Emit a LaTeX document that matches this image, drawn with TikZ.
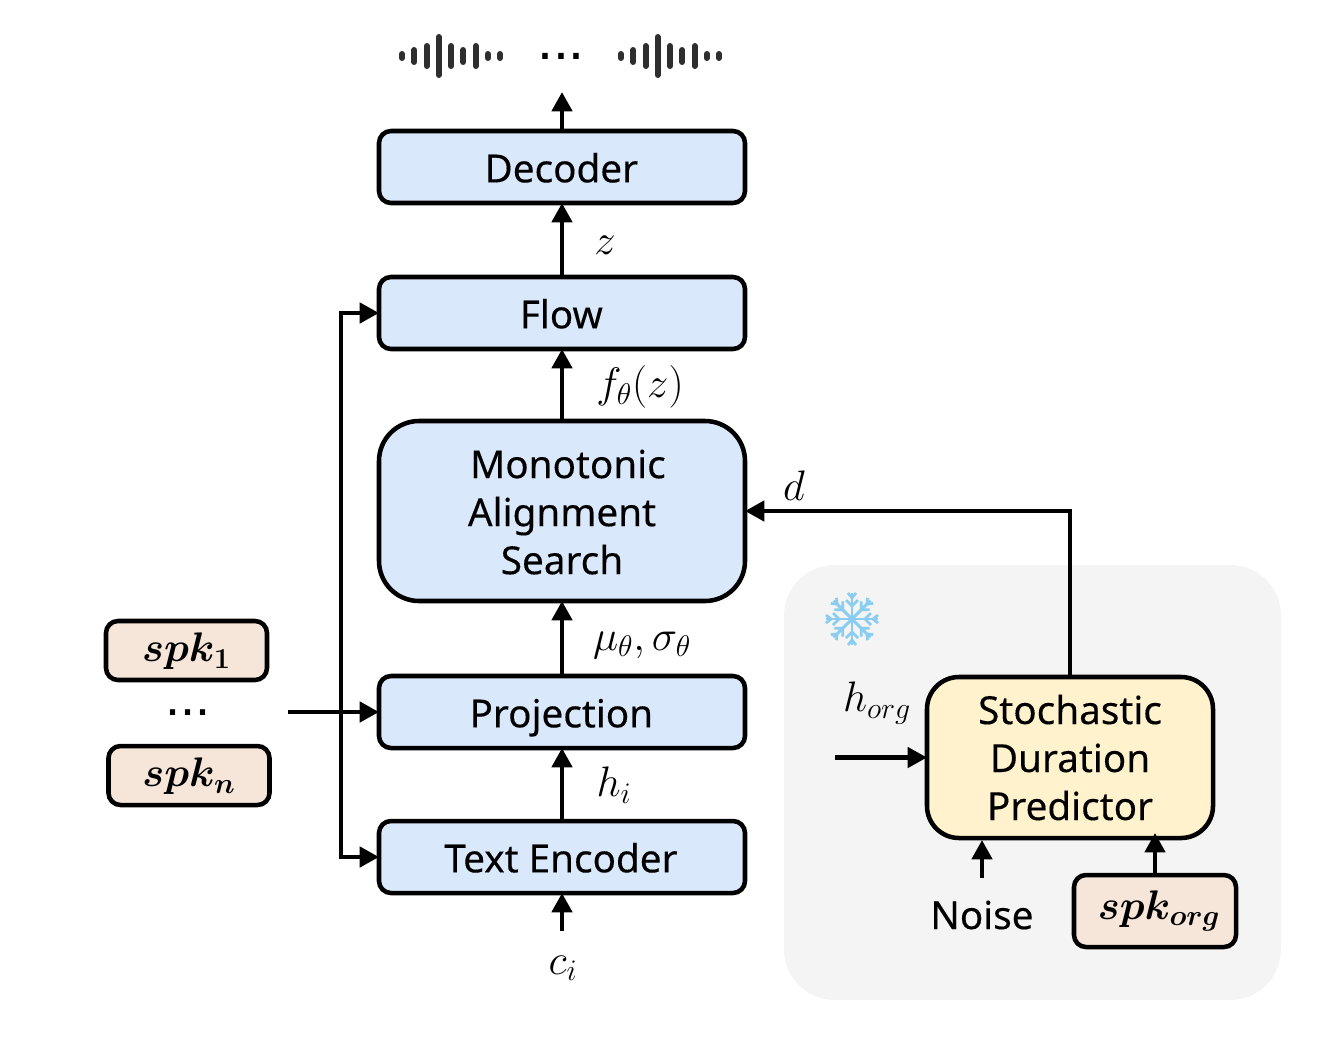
\documentclass[tikz,border=0pt]{standalone}
\usepackage{fix-cm}
\usepackage{fontspec}
\setmainfont[FakeBold=0.25]{Noto Sans}
\newfontfamily\dotfont{Liberation Sans}
\usetikzlibrary{arrows.meta}
\definecolor{blueF}{HTML}{DAE8FB}
\definecolor{peachF}{HTML}{F6E5D9}
\definecolor{yellowF}{HTML}{FFF2CC}
\definecolor{grayF}{HTML}{F4F4F4}
\definecolor{iceC}{HTML}{8ACDF0}
\definecolor{waveC}{HTML}{2E2E2E}
\newcommand{\mathsz}{\fontsize{32}{36}\selectfont}
\newcommand{\spksz}{\fontsize{31}{36}\selectfont\boldmath}
\tikzset{
  x=0.75pt,y=-0.75pt,
  box/.style={draw=black,line width=3.4pt,inner sep=0pt,outer sep=0pt,align=center,
     font=\fontsize{29}{36}\selectfont},
  bluebox/.style={box,fill=blueF,rounded corners=9pt,minimum width=366*0.75pt,minimum height=72*0.75pt,
     text height=24.5pt,text depth=1.5pt},
  spkbox/.style={box,fill=peachF,rounded corners=9pt,minimum width=161*0.75pt,minimum height=59*0.75pt,font=\spksz},
  conn/.style={line width=3.4pt,-{Triangle[length=14.5pt,width=15pt]}},
  lab/.style={inner sep=0pt,font=\mathsz},
  txt/.style={inner sep=0pt,font=\fontsize{29}{36}\selectfont},
  wavebar/.style={line width=4.5pt,line cap=round,color=waveC},
  dotsl/.style={inner sep=0pt,anchor=base},
}
\begin{document}
\begin{tikzpicture}
\useasboundingbox (0,0) rectangle (1327,1058);
% frozen region
\node[fill=grayF,rounded corners=38pt,minimum width=497*0.75pt,minimum height=435*0.75pt,inner sep=0pt] (frozen) at (1032.5,782.5) {};
% snowflake
\begin{scope}[shift={(852,619)}]
\foreach \a in {0,45,...,315}{
  \draw[iceC,line width=2.2pt,rotate=\a] (0,0) -- (26,0);
  \draw[iceC,line width=2pt,rotate=\a] (19,-6) -- (13,0) -- (19,6);
  \draw[iceC,line width=2pt,rotate=\a] (26,-4) -- (21,0) -- (26,4);
}
\end{scope}
% waveforms
\foreach \o in {0,219}{
  \foreach \xx/\h in {402/2,414.3/6,426.7/10,438.7/19,451/10,463.3/6,475.7/10,487.7/2,500/2}{
    \draw[wavebar] (\xx+\o,56-\h) -- (\xx+\o,56+\h);
  }
}
\node[dotsl,font=\dotfont\fontsize{43}{43}\selectfont] (topdots) at (561,59) {...};
\node[dotsl,font=\dotfont\fontsize{40.5}{43}\selectfont] (leftdots) at (188,715) {...};
% main boxes
\node[bluebox] (dec) at (562,167) {\hspace*{-1pt}Decoder};
\node[bluebox] (flow) at (562,313) {\hspace*{-1pt}Flow};
\node[bluebox,rounded corners=30pt,minimum height=180*0.75pt,text height=,text depth=] (mas) at (562,511) {\rule{0pt}{23pt}\hspace*{9pt}Monotonic\\Alignment\\Search};
\node[bluebox] (proj) at (562,712) {\hspace*{-1pt}Projection};
\node[bluebox] (te) at (562,857) {\hspace*{-1.5pt}Text Encoder};
\node[spkbox] (spka) at (186.5,650.5) {\rule{0pt}{23pt}$spk_{1}$};
\node[spkbox] (spkb) at (189,775.5) {\rule{0pt}{23pt}$spk_{n}$};
\node[box,fill=yellowF,rounded corners=24pt,minimum width=286*0.75pt,minimum height=161*0.75pt] (sdp) at (1070,757.5) {Stochastic\\Duration\\Predictor};
\node[spkbox,minimum width=162*0.75pt,minimum height=72*0.75pt] (spko) at (1155,911) {\hspace*{6pt}$spk_{org}$};
% labels
\node[lab] (lz) at (605,245) {$z$};
\node[lab] (lf) at (640,387) {$f_{\theta}(z)$};
\node[lab] (lm) at (642,645) {$\mu_{\theta},\sigma_{\theta}$};
\node[lab] (lh) at (614,785) {$h_{i}$};
\node[lab] (lc) at (563,968) {$c_{i}$};
\node[lab] (ld) at (794,486) {$d$};
\node[lab] (lo) at (877,703) {$h_{org}$};
\node[txt] (noise) at (982,915) {Noise};
% free ends
\coordinate (out) at (562,92);
\coordinate (cin) at (562,931);
\coordinate (spkin) at (288,712);
\coordinate (bus) at (341,712);
\coordinate (hin) at (835,757.5);
\coordinate (nstart) at (982,878);
\coordinate (ntip) at (982,840);
\coordinate (otip) at (1155,833);
% connectors
\draw[conn] (dec.north) -- (out);
\draw[conn] (flow.north) -- (dec.south);
\draw[conn] (mas.north) -- (flow.south);
\draw[conn] (proj.north) -- (mas.south);
\draw[conn] (te.north) -- (proj.south);
\draw[conn] (cin) -- (te.south);
\draw[conn] (spkin) -- (proj.west);
\draw[conn] (bus) |- (flow.west);
\draw[conn] (bus) |- (te.west);
\draw[conn] (sdp.north) |- (mas.east);
\draw[conn] (hin) -- (sdp.west);
\draw[conn] (nstart) -- (ntip);
\draw[conn] (spko.north) -- (otip);
\end{tikzpicture}
\end{document}
